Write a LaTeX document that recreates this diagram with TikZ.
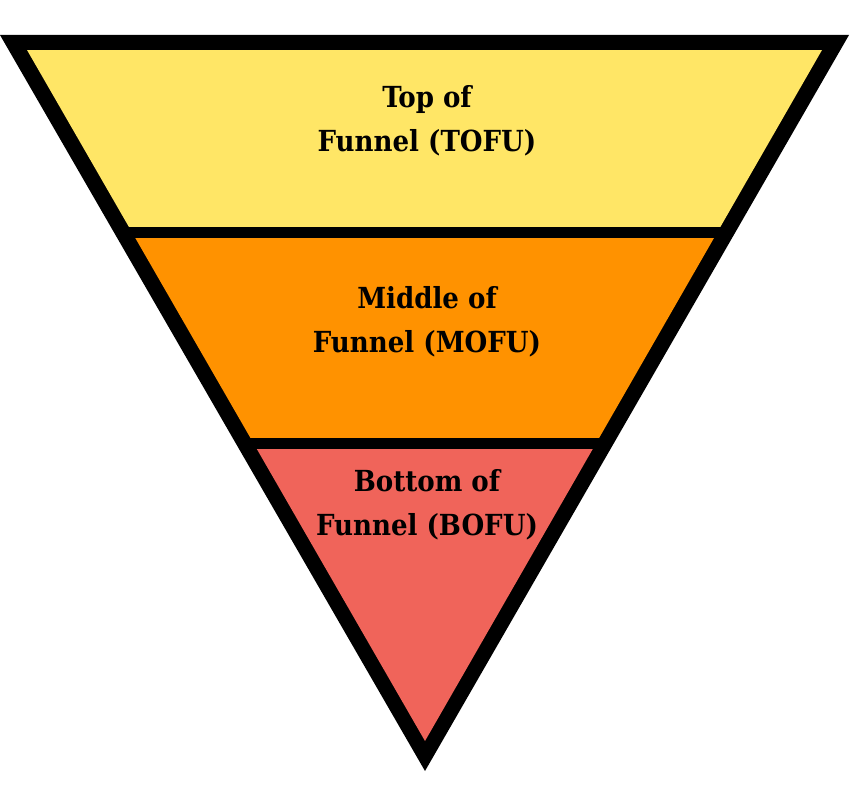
\documentclass[tikz,border=0pt]{standalone}
\usepackage{fontspec}
\newfontfamily\slabfont{DejaVu Serif Condensed}
\usetikzlibrary{positioning}
\definecolor{TofuYellow}{HTML}{FFE666}
\definecolor{MofuOrange}{HTML}{FF9200}
\definecolor{BofuRed}{HTML}{F0645A}
\tikzset{stagetext/.style={align=center,text=black,inner sep=0pt,font=\slabfont\bfseries\fontsize{29}{44}\selectfont}}

\begin{document}
\begin{tikzpicture}[x=1pt,y=-1pt]
      \useasboundingbox (0,0) rectangle (856,800);
      % outer black funnel
      \fill[black] (0,35) -- (849,35) -- (425,771) -- cycle;
      % coloured bands, clipped to the inner triangle
      \begin{scope}
        \clip (27,50) -- (822,50) -- (425,741) -- cycle;
        \fill[TofuYellow] (0,50) rectangle (856,227);
        \fill[MofuOrange] (0,238) rectangle (856,438);
        \fill[BofuRed] (0,449) rectangle (856,760);
      \end{scope}
      \node[stagetext] (tofu) at (427,121) {Top of\\Funnel (TOFU)};
      \node[stagetext] (mofu) at (427,322) {Middle of\\Funnel (MOFU)};
      \node[stagetext] (bofu) at (427,505) {Bottom of\\Funnel (BOFU)};
    \end{tikzpicture}
\end{document}
